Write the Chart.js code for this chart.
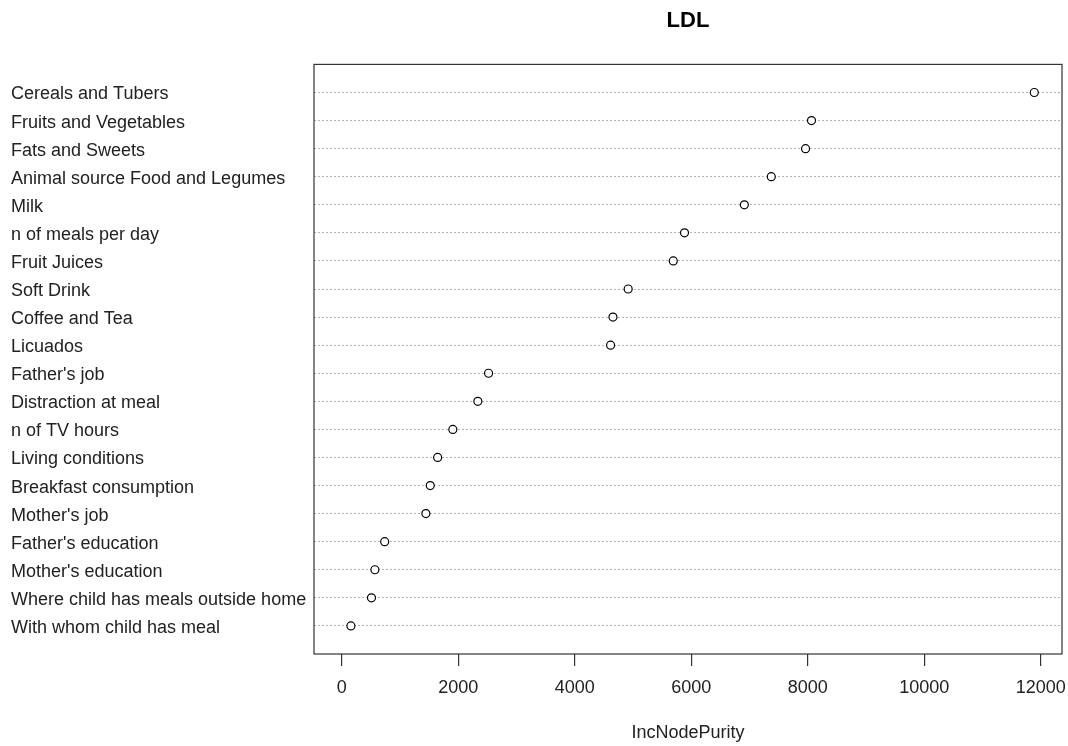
<!DOCTYPE html>
<html>
<head>
<meta charset="utf-8">
<script src="https://cdn.jsdelivr.net/npm/chart.js@4"></script>
<style>
  body { margin: 0; background: #fff; }
  #wrap { width: 1068px; height: 746px; }
</style>
</head>
<body>
<div id="wrap"><canvas id="chart" width="1068" height="746"></canvas></div>
<script>
// variables, top to bottom as in the plot
const variables = [
  "Cereals and Tubers",
  "Fruits and Vegetables",
  "Fats and Sweets",
  "Animal source Food and Legumes",
  "Milk",
  "n of meals per day",
  "Fruit Juices",
  "Soft Drink",
  "Coffee and Tea",
  "Licuados",
  "Father's job",
  "Distraction at meal",
  "n of TV hours",
  "Living conditions",
  "Breakfast consumption",
  "Mother's job",
  "Father's education",
  "Mother's education",
  "Where child has meals outside home",
  "With whom child has meal"
];
const incNodePurity = [
  11890, 8065, 7963, 7375, 6912, 5885, 5692, 4918, 4657, 4616,
  2521, 2337, 1908, 1647, 1520, 1445, 738, 570, 511, 158
];
const xTicks = [0, 2000, 4000, 6000, 8000, 10000, 12000];

const n = variables.length;
const maxVal = Math.max(...incNodePurity);
// R style range: 0..max extended by 4% each side
const xMin = -0.04 * maxVal;
const xMax = 1.04 * maxVal;

const points = incNodePurity.map((v, i) => ({ x: v, y: n - i }));

const fontFam = "'Liberation Sans', Arial, sans-serif";

const boxPlugin = {
  id: "box",
  afterDraw(chart) {
    const a = chart.chartArea;
    const ctx = chart.ctx;
    ctx.save();
    ctx.strokeStyle = "#333";
    ctx.lineWidth = 1.2;
    ctx.strokeRect(a.left, a.top, a.right - a.left, a.bottom - a.top);
    ctx.restore();
  }
};

new Chart(document.getElementById("chart"), {
  type: "scatter",
  data: {
    datasets: [{
      data: points,
      pointRadius: 4,
      pointBorderWidth: 1.2,
      pointBorderColor: "#000",
      pointBackgroundColor: "#fff",
      showLine: false
    }]
  },
  plugins: [boxPlugin],
  options: {
    responsive: false,
    animation: false,
    layout: { padding: { left: 11, right: 6, top: 0, bottom: 0 } },
    plugins: {
      legend: { display: false },
      tooltip: { enabled: false },
      title: { display: false }
    },
    scales: {
      x: {
        type: "linear",
        position: "bottom",
        min: xMin,
        max: xMax,
        afterBuildTicks: (scale) => {
          scale.ticks = xTicks.map((v) => ({ value: v }));
        },
        afterFit: (scale) => {
          scale.paddingLeft = 0;
          scale.paddingRight = 0;
        },
        grid: {
          drawOnChartArea: false,
          drawTicks: true,
          tickLength: 12,
          color: "#333",
          lineWidth: 1.2
        },
        border: { display: false },
        ticks: {
          padding: 11,
          color: "#222",
          font: { family: fontFam, size: 18 },
          maxRotation: 0,
          callback: (value) => String(value)
        },
        title: {
          display: true,
          text: "IncNodePurity",
          color: "#222",
          font: { family: fontFam, size: 18 },
          padding: { top: 12.6, bottom: 2.2 }
        }
      },
      x2: {
        type: "linear",
        position: "top",
        min: xMin,
        max: xMax,
        afterFit: (scale) => {
          scale.paddingLeft = 0;
          scale.paddingRight = 0;
        },
        grid: { display: false, drawTicks: false },
        border: { display: false },
        ticks: { display: false },
        title: {
          display: true,
          text: "LDL",
          color: "#000",
          font: { family: fontFam, size: 22, weight: "bold" },
          padding: { top: 8, bottom: 30 }
        }
      },
      y: {
        type: "linear",
        min: 0,
        max: n + 1,
        afterFit: (scale) => { scale.width = 303; },
        afterBuildTicks: (scale) => {
          scale.ticks = variables.map((_, i) => ({ value: n - i }));
        },
        grid: {
          drawTicks: false,
          color: "#b4b4b4",
          lineWidth: 1,
          borderDash: [2, 2]
        },
        border: { display: false, dash: [2, 2] },
        ticks: {
          autoSkip: false,
          crossAlign: "far",
          padding: 0,
          labelOffset: 2,
          color: "#222",
          font: { family: fontFam, size: 18 },
          callback: (value) => {
            const idx = n - value;
            return idx >= 0 && idx < n ? variables[idx] : "";
          }
        }
      }
    }
  }
});
</script>
</body>
</html>
